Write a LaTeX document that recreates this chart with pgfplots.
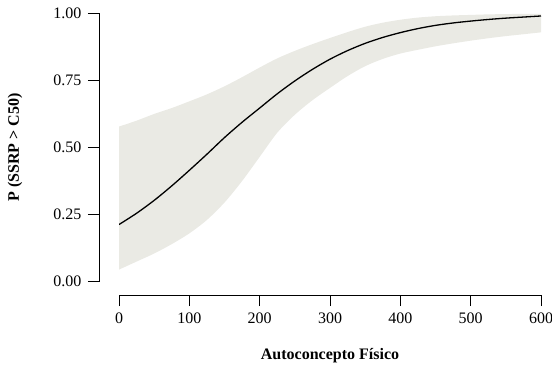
\documentclass[border=0pt]{standalone}
\usepackage{fontspec}
\setmainfont{Liberation Serif}
\usepackage{pgfplots}
\usepackage{pgfplotstable}
\pgfplotsset{compat=1.18}
\usepgfplotslibrary{fillbetween}
\definecolor{bandgray}{RGB}{234,234,228}

\pgfplotstableread{
x fit lo up
0 0.213 0.045 0.578
25 0.255 0.075 0.600
50 0.303 0.105 0.625
75 0.357 0.140 0.647
100 0.415 0.180 0.672
125 0.475 0.230 0.698
150 0.537 0.295 0.728
175 0.594 0.375 0.762
200 0.647 0.465 0.798
225 0.700 0.555 0.832
250 0.748 0.622 0.860
275 0.791 0.676 0.885
300 0.829 0.722 0.908
325 0.861 0.766 0.930
350 0.888 0.803 0.950
375 0.910 0.830 0.965
400 0.928 0.850 0.976
425 0.943 0.864 0.984
450 0.955 0.877 0.989
475 0.964 0.888 0.992
500 0.971 0.898 0.994
525 0.977 0.907 0.996
550 0.982 0.915 0.997
575 0.986 0.922 0.998
600 0.990 0.929 0.998
}\datatable

\begin{document}
\begin{tikzpicture}
\begin{axis}[
  at={(0,0)}, anchor=south west,
  scale only axis,
  width=422bp, height=268.4bp,
  xmin=0, xmax=600, ymin=0, ymax=1,
  axis x line=bottom, axis y line=left,
  axis line style={-, line width=0.8bp},
  axis x line shift=13.3bp,
  axis y line shift=20bp,
  tick align=outside,
  major tick length=11bp,
  tick style={line width=0.8bp, black},
  xtick={0,100,...,600},
  ytick={0,0.25,0.5,0.75,1},
  yticklabels={0.00,0.25,0.50,0.75,1.00},
  font=\fontsize{16bp}{19bp}\selectfont,
  /pgf/number format/assume math mode=true,
  ticklabel style={font=\fontsize{16bp}{19bp}\selectfont},
  xticklabel style={yshift=-3bp},
  yticklabel style={xshift=-3bp},
  xlabel={\textbf{Autoconcepto Físico}},
  ylabel={\textbf{P (SSRP > C50)}},
  xlabel style={at={(axis description cs:0.5,0)}, anchor=base, yshift=-78bp},
  ylabel style={at={(axis description cs:0,0.5)}, anchor=base, yshift=100bp},
]
\addplot[name path=up, draw=none, smooth, forget plot] table[x=x, y=up] {\datatable};
\addplot[name path=lo, draw=none, smooth, forget plot] table[x=x, y=lo] {\datatable};
\addplot[bandgray, draw=none] fill between[of=up and lo];
\addplot[black, line width=1.3bp, smooth] table[x=x, y=fit] {\datatable};
\end{axis}
\pgfresetboundingbox
\path (-119bp,-83.3bp) rectangle (433bp,281.7bp);
\end{tikzpicture}
\end{document}
